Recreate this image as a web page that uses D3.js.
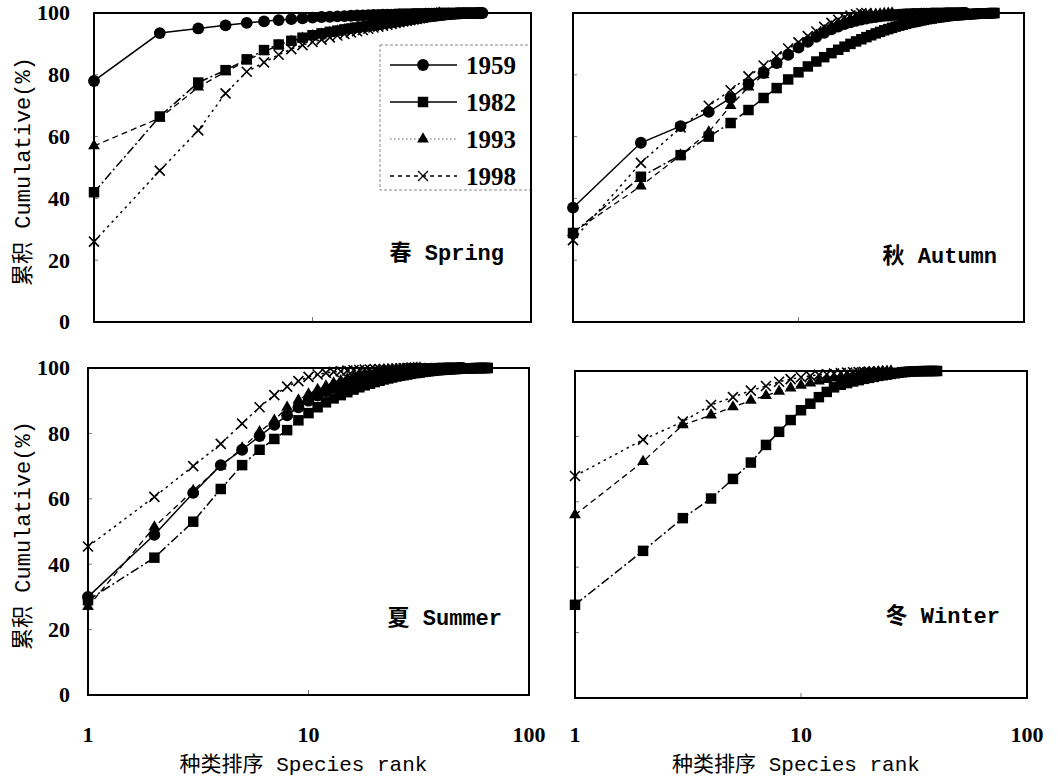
<!DOCTYPE html>
<html lang="zh">
<head>
<meta charset="utf-8">
<title>Cumulative curves by season</title>
<script src="https://cdn.jsdelivr.net/npm/d3@7"></script>
<style>
body{margin:0;background:#fff;}
.num{font-family:"Liberation Serif",serif;font-weight:bold;font-size:22px;fill:#000;}
.ttl{font-family:"Liberation Mono","Noto Sans CJK SC",monospace;font-size:22px;fill:#000;}
.season{font-family:"Liberation Mono","Noto Sans CJK SC",monospace;font-size:22px;font-weight:bold;fill:#000;}
</style>
</head>
<body>
<svg id="chart" width="1058" height="781"></svg>
<script>
// years and ticks
const years = ["1959", "1982", "1993", "1998"];
const yTicks = [0, 20, 40, 60, 80, 100];
const xTicks = [1, 10, 100];

// cumulative % by species rank (rank = index+1)
const spring1959 = [78,93.5,95,96,96.8,97.3,97.7,98.0,98.3,98.5,98.7,98.8,98.9,99.0,99.1,99.2,99.25,99.3,99.35,99.4,
  99.45,99.5,99.5,99.55,99.6,99.6,99.65,99.65,99.7,99.7,99.72,99.74,99.76,99.78,99.8,99.8,99.82,99.84,99.85,99.86,
  99.87,99.88,99.89,99.9,99.9,99.91,99.92,99.93,99.94,99.95,99.95,99.96,99.97,99.97,99.98,99.98,99.99,99.99,100,100];
const spring1982 = [42,66.5,77.5,81.5,85,88,89.8,91,92,92.8,93.4,93.9,94.3,94.7,95.0,95.3,95.6,95.9,96.1,96.3,
  96.5,96.7,96.9,97.1,97.3,97.5,97.7,97.9,98.1,98.2,98.4,98.5,98.7,98.8,98.9,99.0,99.1,99.2,99.3,99.4,
  99.5,99.55,99.6,99.65,99.7,99.75,99.8,99.85,99.9,99.95,100];
const spring1993 = [57,66,76,81,84.5,87.5,89.5,90.8,91.8,92.6,93.2,93.7,94.2,94.6,95.0,95.3,95.6,95.9,96.2,96.4,
  96.6,96.8,97.0,97.2,97.4,97.6,97.8,98.0,98.2,98.4,98.6,98.8,99.0,99.2,99.4,99.6,99.8,100];
const spring1998 = [26,49,62,74,81,84,86.5,88.3,89.6,90.6,91.4,92.1,92.7,93.2,93.7,94.1,94.5,94.9,95.3,95.6,
  95.9,96.2,96.5,96.8,97.0,97.3,97.5,97.7,97.9,98.1,98.3,98.5,98.7,98.9,99.0,99.2,99.3,99.4,99.5,99.6,
  99.7,99.8,99.9,100];

const autumn1959 = [37,58,63.4,68,72.5,77,80.6,83.8,86.5,88.8,90.7,92.3,93.6,94.7,95.6,96.4,97.0,97.5,97.9,98.2,
  98.5,98.7,98.9,99.05,99.2,99.3,99.4,99.5,99.55,99.6,99.65,99.7,99.72,99.74,99.76,99.78,99.8,99.82,99.84,99.86,
  99.87,99.88,99.89,99.9,99.91,99.92,99.93,99.94,99.95,99.96,99.97,99.98,99.99,100,100];
const autumn1982 = [28.8,47,54,60,64.4,68.6,72.5,75.7,78.5,80.8,82.7,84.3,85.7,87,88.1,89.1,90,90.8,91.5,92.2,
  92.8,93.4,93.9,94.4,94.8,95.2,95.6,95.9,96.2,96.5,96.8,97.0,97.2,97.4,97.6,97.8,98.0,98.1,98.2,98.4,
  98.5,98.6,98.7,98.8,98.9,99.0,99.1,99.15,99.2,99.25,99.3,99.35,99.4,99.45,99.5,99.55,99.6,99.63,99.66,99.69,
  99.72,99.75,99.78,99.8,99.82,99.84,99.86,99.88,99.9,99.92,99.94,99.96,99.98,100];
const autumn1993 = [29,44,54,61.5,70,76,80,83.5,86.5,89,91,92.8,94.3,95.5,96.5,97.3,98,98.5,98.9,99.2,
  99.4,99.6,99.7,99.8,99.9,100];
const autumn1998 = [26.5,51.5,63,70,75,79.5,83,86,88.5,90.5,92.5,94,95.5,96.8,97.8,98.6,99.2,99.6,99.9,100];

const summer1959 = [30,49,61.8,70.3,75,79.2,82.6,85.5,88,90,91.6,92.9,94,94.9,95.7,96.3,96.8,97.2,97.6,97.9,
  98.2,98.4,98.6,98.8,99.0,99.1,99.2,99.3,99.4,99.5,99.55,99.6,99.65,99.7,99.74,99.78,99.8,99.83,99.86,99.88,
  99.9,99.92,99.94,99.95,99.96,99.97,99.98,99.99,100,100];
const summer1982 = [29,42,53,63,70.3,75,78.3,81,84,86.2,88,89.5,90.7,91.7,92.6,93.4,94.1,94.7,95.2,95.7,
  96.1,96.5,96.8,97.1,97.4,97.6,97.8,98.0,98.2,98.4,98.5,98.6,98.8,98.9,99.0,99.1,99.2,99.3,99.35,99.4,
  99.45,99.5,99.55,99.6,99.65,99.7,99.72,99.75,99.78,99.8,99.83,99.86,99.88,99.9,99.92,99.94,99.96,99.97,99.98,99.99,
  100,100,100,100,100];
const summer1993 = [27,51.4,62.5,70,75.5,80.5,84,88,90.2,92,93.4,94.5,95.4,96.1,96.7,97.2,97.6,98,98.3,98.6,
  98.8,99.0,99.2,99.35,99.5,99.6,99.7,99.8,99.85,99.9,99.95,100];
const summer1998 = [45.4,60.6,70,76.8,83,88,91.7,94.3,96,97.3,98.0,98.5,98.8,99.0,99.2,99.3,99.4,99.5,99.55,99.6,
  99.65,99.7,99.75,99.8,99.82,99.85,99.88,99.9,99.93,99.96,99.98,100];

const winter1982 = [28.5,45,55,61,67,72,77.4,81.4,85,88,90,92,93.6,95,95.8,96.3,96.8,97.2,97.6,97.9,
  98.2,98.5,98.7,98.9,99.1,99.3,99.45,99.6,99.7,99.8,99.85,99.9,99.93,99.95,99.97,99.98,99.99,100,100,100];
const winter1993 = [56,72.3,83.5,86.5,89,91,92.5,93.8,94.8,95.6,96.3,96.9,97.4,97.8,98.2,98.5,98.8,99.0,99.2,99.4,
  99.55,99.7,99.8,99.9,100];
const winter1998 = [67.9,79,84.5,89.6,92,94,95.4,96.7,97.5,98.1,98.5,98.8,99.0,99.2,99.35,99.5,99.6,99.7,99.75,99.8,
  99.85,99.9,99.95,100];

// panels: layout + which series they carry
const panels = [
  {label:"春 Spring", x0:94, x1:531, y0:13, y1:322, labPos:0.8, yLab:true, xLab:false, legend:true,
   series:{"1959":spring1959,"1982":spring1982,"1993":spring1993,"1998":spring1998}},
  {label:"秋 Autumn", x0:573, x1:1024, y0:13, y1:322, labPos:0.81, yLab:false, xLab:false, legend:false,
   series:{"1959":autumn1959,"1982":autumn1982,"1993":autumn1993,"1998":autumn1998}},
  {label:"夏 Summer", x0:88, x1:529, y0:368, y1:695, labPos:0.785, yLab:true, xLab:true, legend:false,
   series:{"1959":summer1959,"1982":summer1982,"1993":summer1993,"1998":summer1998}},
  {label:"冬 Winter", x0:575, x1:1027, y0:371, y1:698, labPos:0.772, yLab:false, xLab:true, legend:false,
   series:{"1982":winter1982,"1993":winter1993,"1998":winter1998}}
];

// line dash + marker per year
const dash = {"1959":null, "1982":"9,3,2,3", "1993":"6,4", "1998":"2.5,4"};
const legendDash = {"1959":null, "1982":null, "1993":"1.5,2.5", "1998":"4,4"};
const legendStroke = {"1959":"#000", "1982":"#000", "1993":"#999", "1998":"#000"};

function marker(year){
  if(year==="1959") return d3.symbol(d3.symbolCircle, 110)();
  if(year==="1982") return d3.symbol(d3.symbolSquare, 110)();
  if(year==="1993") return d3.symbol(d3.symbolTriangle, 60)();
  return "M-5,-5L5,5M-5,5L5,-5";
}

const svg = d3.select("#chart");

panels.forEach(p => {
  const x = d3.scaleLog().domain([1,100]).range([p.x0, p.x1]);
  const y = d3.scaleLinear().domain([0,100]).range([p.y1, p.y0]);
  const g = svg.append("g");

  // small inner ticks
  g.selectAll(".yt").data(yTicks.slice(1,-1)).join("line")
    .attr("x1", p.x0).attr("x2", p.x0+4)
    .attr("y1", d=>y(d)).attr("y2", d=>y(d))
    .attr("stroke","#777").attr("stroke-width",1);
  g.append("line").attr("x1", x(10)).attr("x2", x(10))
    .attr("y1", p.y1).attr("y2", p.y1-5)
    .attr("stroke","#777").attr("stroke-width",1);

  const line = d3.line().x((d,i)=>x(i+1)).y(d=>y(d));

  Object.keys(p.series).forEach(yr => {
    const vals = p.series[yr];
    g.append("path").datum(vals)
      .attr("d", line)
      .attr("fill","none").attr("stroke","#000")
      .attr("stroke-width", yr==="1993" ? 1.3 : 1.5)
      .attr("stroke-dasharray", dash[yr]);
    const m = g.selectAll(".m"+yr).data(vals).join("path")
      .attr("transform",(d,i)=>`translate(${x(i+1)},${y(d)})`)
      .attr("d", marker(yr));
    if(yr==="1998") m.attr("fill","none").attr("stroke","#000").attr("stroke-width",1.6);
    else m.attr("fill","#000");
  });

  // frame
  g.append("rect").attr("x",p.x0).attr("y",p.y0)
    .attr("width",p.x1-p.x0).attr("height",p.y1-p.y0)
    .attr("fill","none").attr("stroke","#000").attr("stroke-width",2);

  // y tick labels
  if(p.yLab){
    g.selectAll(".yl").data(yTicks).join("text").attr("class","num")
      .attr("x", 70).attr("y", d=>y(d)).attr("dy","0.34em")
      .attr("text-anchor","end").text(d=>d);
    g.append("text").attr("class","ttl")
      .attr("transform",`translate(30,${(p.y0+p.y1)/2+4}) rotate(-90)`)
      .attr("text-anchor","middle").text("累积 Cumulative(%)");
  }
  if(p.xLab){
    g.selectAll(".xl").data(xTicks).join("text").attr("class","num")
      .attr("x", d=>x(d)).attr("y", 742)
      .attr("text-anchor","middle").text(d=>d);
    g.append("text").attr("class","ttl").style("font-size","21px")
      .attr("x",(p.x0+p.x1)/2-5).attr("y",771)
      .attr("text-anchor","middle")
      .text("种类排序 Species rank");
  }

  g.append("text").attr("class","season")
    .attr("x", p.x1-27).attr("y", p.y0 + (p.y1-p.y0)*p.labPos)
    .attr("text-anchor","end").text(p.label);

  if(p.legend){
    const lg = g.append("g");
    lg.append("rect").attr("x",380).attr("y",45).attr("width",p.x1-380).attr("height",145)
      .attr("fill","#fff").attr("stroke","#888").attr("stroke-width",1)
      .attr("stroke-dasharray","3,2");
    years.forEach((yr,i) => {
      const cy = 65 + i*37;
      lg.append("line").attr("x1",390).attr("x2",457).attr("y1",cy).attr("y2",cy)
        .attr("stroke",legendStroke[yr]).attr("stroke-width",1.5)
        .attr("stroke-dasharray",legendDash[yr]);
      const mk = lg.append("path").attr("transform",`translate(423,${cy})`).attr("d",marker(yr));
      if(yr==="1998") mk.attr("fill","none").attr("stroke","#000").attr("stroke-width",1.4);
      else mk.attr("fill","#000");
      lg.append("text").attr("class","num").style("font-size","25px")
        .attr("x",466).attr("y",cy).attr("dy","0.34em").text(yr);
    });
    // redraw right border over legend box
    g.append("line").attr("x1",p.x1).attr("x2",p.x1).attr("y1",p.y0).attr("y2",p.y1)
      .attr("stroke","#000").attr("stroke-width",2);
  }
});
</script>
</body>
</html>
